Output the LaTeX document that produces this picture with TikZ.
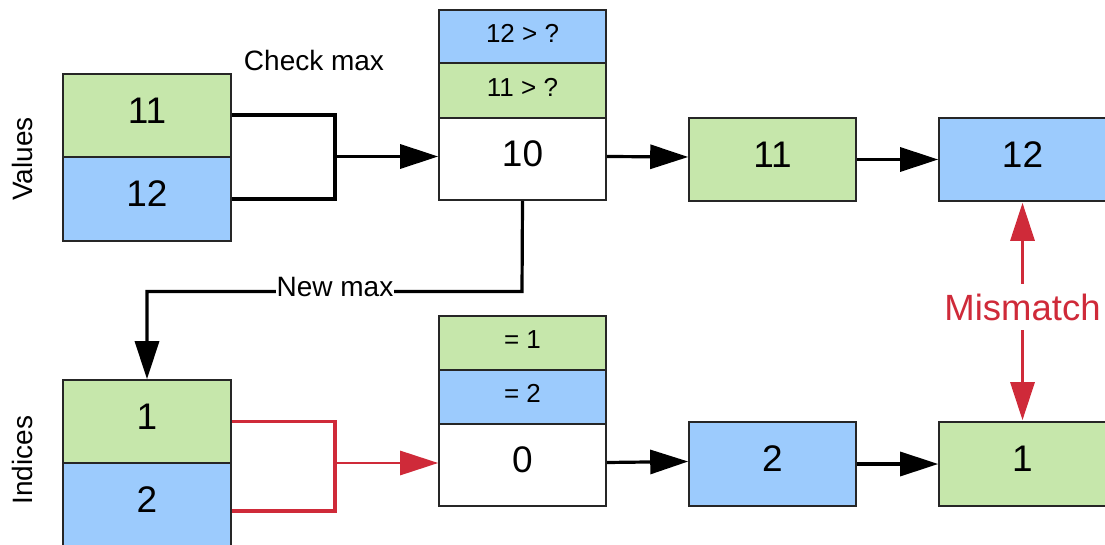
\documentclass[tikz,border=0pt]{standalone}
\usepackage{fontspec}
\setmainfont{Liberation Sans}
\usetikzlibrary{arrows.meta}
\definecolor{boxgreen}{HTML}{C6E7AB}
\definecolor{boxblue}{HTML}{9CCBFD}
\definecolor{mmred}{HTML}{CF2A39}
\begin{document}
\begin{tikzpicture}[x=1pt,y=-1pt,
  cell/.style={draw=black!85, line width=1.6pt, inner sep=0pt, text=black,
    font=\fontsize{37}{42}\selectfont, text depth=10pt},
  smallcell/.style={cell, font=\fontsize{26}{30}\selectfont, text depth=7pt},
  wide/.style={minimum width=168pt},
  mid/.style={minimum width=167pt},
  gcell/.style={fill=boxgreen},
  bcell/.style={fill=boxblue},
  wcell/.style={fill=white},
  bracket/.style={line width=4pt, line join=miter},
  rbracket/.style={line width=3.3pt, draw=mmred, line join=miter},
  flow/.style={line width=3.2pt, -{Triangle[length=38pt,width=24pt]}},
  rflow/.style={line width=2.8pt, draw=mmred, -{Triangle[length=38pt,width=24pt]}},
  mmflow/.style={line width=3pt, draw=mmred, {Triangle[length=38pt,width=24pt]}-{Triangle[length=38pt,width=24pt]}},
  lbl/.style={font=\fontsize{28}{32}\selectfont},
]
\useasboundingbox (0,0) rectangle (1105,545);
\clip (0,0) rectangle (1105,545);

% left value boxes
\node[cell,wide,gcell,minimum height=83pt] (v11) at (147,115.5) {11};
\node[cell,wide,bcell,minimum height=84pt] (v12) at (147,199) {12};
% middle value stack
\node[smallcell,mid,bcell,minimum height=53pt] (mq12) at (522.5,36.5) {12 > ?};
\node[smallcell,mid,gcell,minimum height=55pt] (mq11) at (522.5,90.5) {11 > ?};
\node[cell,mid,wcell,minimum height=82pt] (m10) at (522.5,159) {10};
% right value boxes
\node[cell,mid,gcell,minimum height=83pt] (r11) at (772.5,159.5) {11};
\node[cell,mid,bcell,minimum height=83pt] (r12) at (1022.5,159.5) {12};

% left index boxes
\node[cell,wide,gcell,minimum height=83pt] (i1) at (147,421.5) {1};
\node[cell,wide,bcell,minimum height=83pt] (i2) at (147,504.5) {2};
% middle index stack
\node[smallcell,mid,gcell,minimum height=54pt] (mq1) at (522.5,343) {= 1};
\node[smallcell,mid,bcell,minimum height=54pt] (mq2) at (522.5,397) {= 2};
\node[cell,mid,wcell,minimum height=82pt] (m0) at (522.5,465) {0};
% right index boxes
\node[cell,mid,bcell,minimum height=84pt] (r2) at (772.5,464) {2};
\node[cell,mid,gcell,minimum height=84pt] (r1) at (1022.5,464) {1};

% row labels
\node[lbl,rotate=90] (lvalues) at (22,159) {Values};
\node[lbl,rotate=90] (lindices) at (22,460) {Indices};
\node[lbl] (checkmax) at (314,60) {Check max};

% black bracket and arrow
\coordinate (bj) at (335,156.5);
\draw[bracket] (v11.east) -| (bj) |- (v12.east);
\draw[flow] (bj) -- (bj -| m10.west);

% red bracket and arrow
\coordinate (rbt) at (335,421.5);
\coordinate (rbb) at (335,511);
\coordinate (rj) at (335,463);
\draw[rbracket] (i1.east) -- (rbt) -- (rbb) -- (rbb -| i2.east);
\draw[rflow] (rj) -- (rj -| m0.west);

% chain arrows
\draw[flow] ([yshift=2.5pt]m10.east) -- ([yshift=2.5pt]r11.west);
\draw[flow] (r11.east) -- (r12.west);
\draw[flow] ([yshift=2.5pt]m0.east) -- ([yshift=2.5pt]r2.west);
\draw[flow] (r2.east) -- (r1.west);

% new max
\coordinate (nmc) at (522,291.5);
\draw[flow] (m10.south) -- (nmc) -| (i1.north);
\node[lbl, fill=white, inner sep=1pt] (newmax) at (335,287) {New max};

% mismatch
\draw[mmflow] ([yshift=-1pt]r12.south) -- ([yshift=1pt]r1.north);
\node[font=\fontsize{36.5}{40}\selectfont, text=mmred, fill=white, inner xsep=2pt, inner ysep=10pt] (mm) at (1022.5,307) {Mismatch};
\end{tikzpicture}
\end{document}
